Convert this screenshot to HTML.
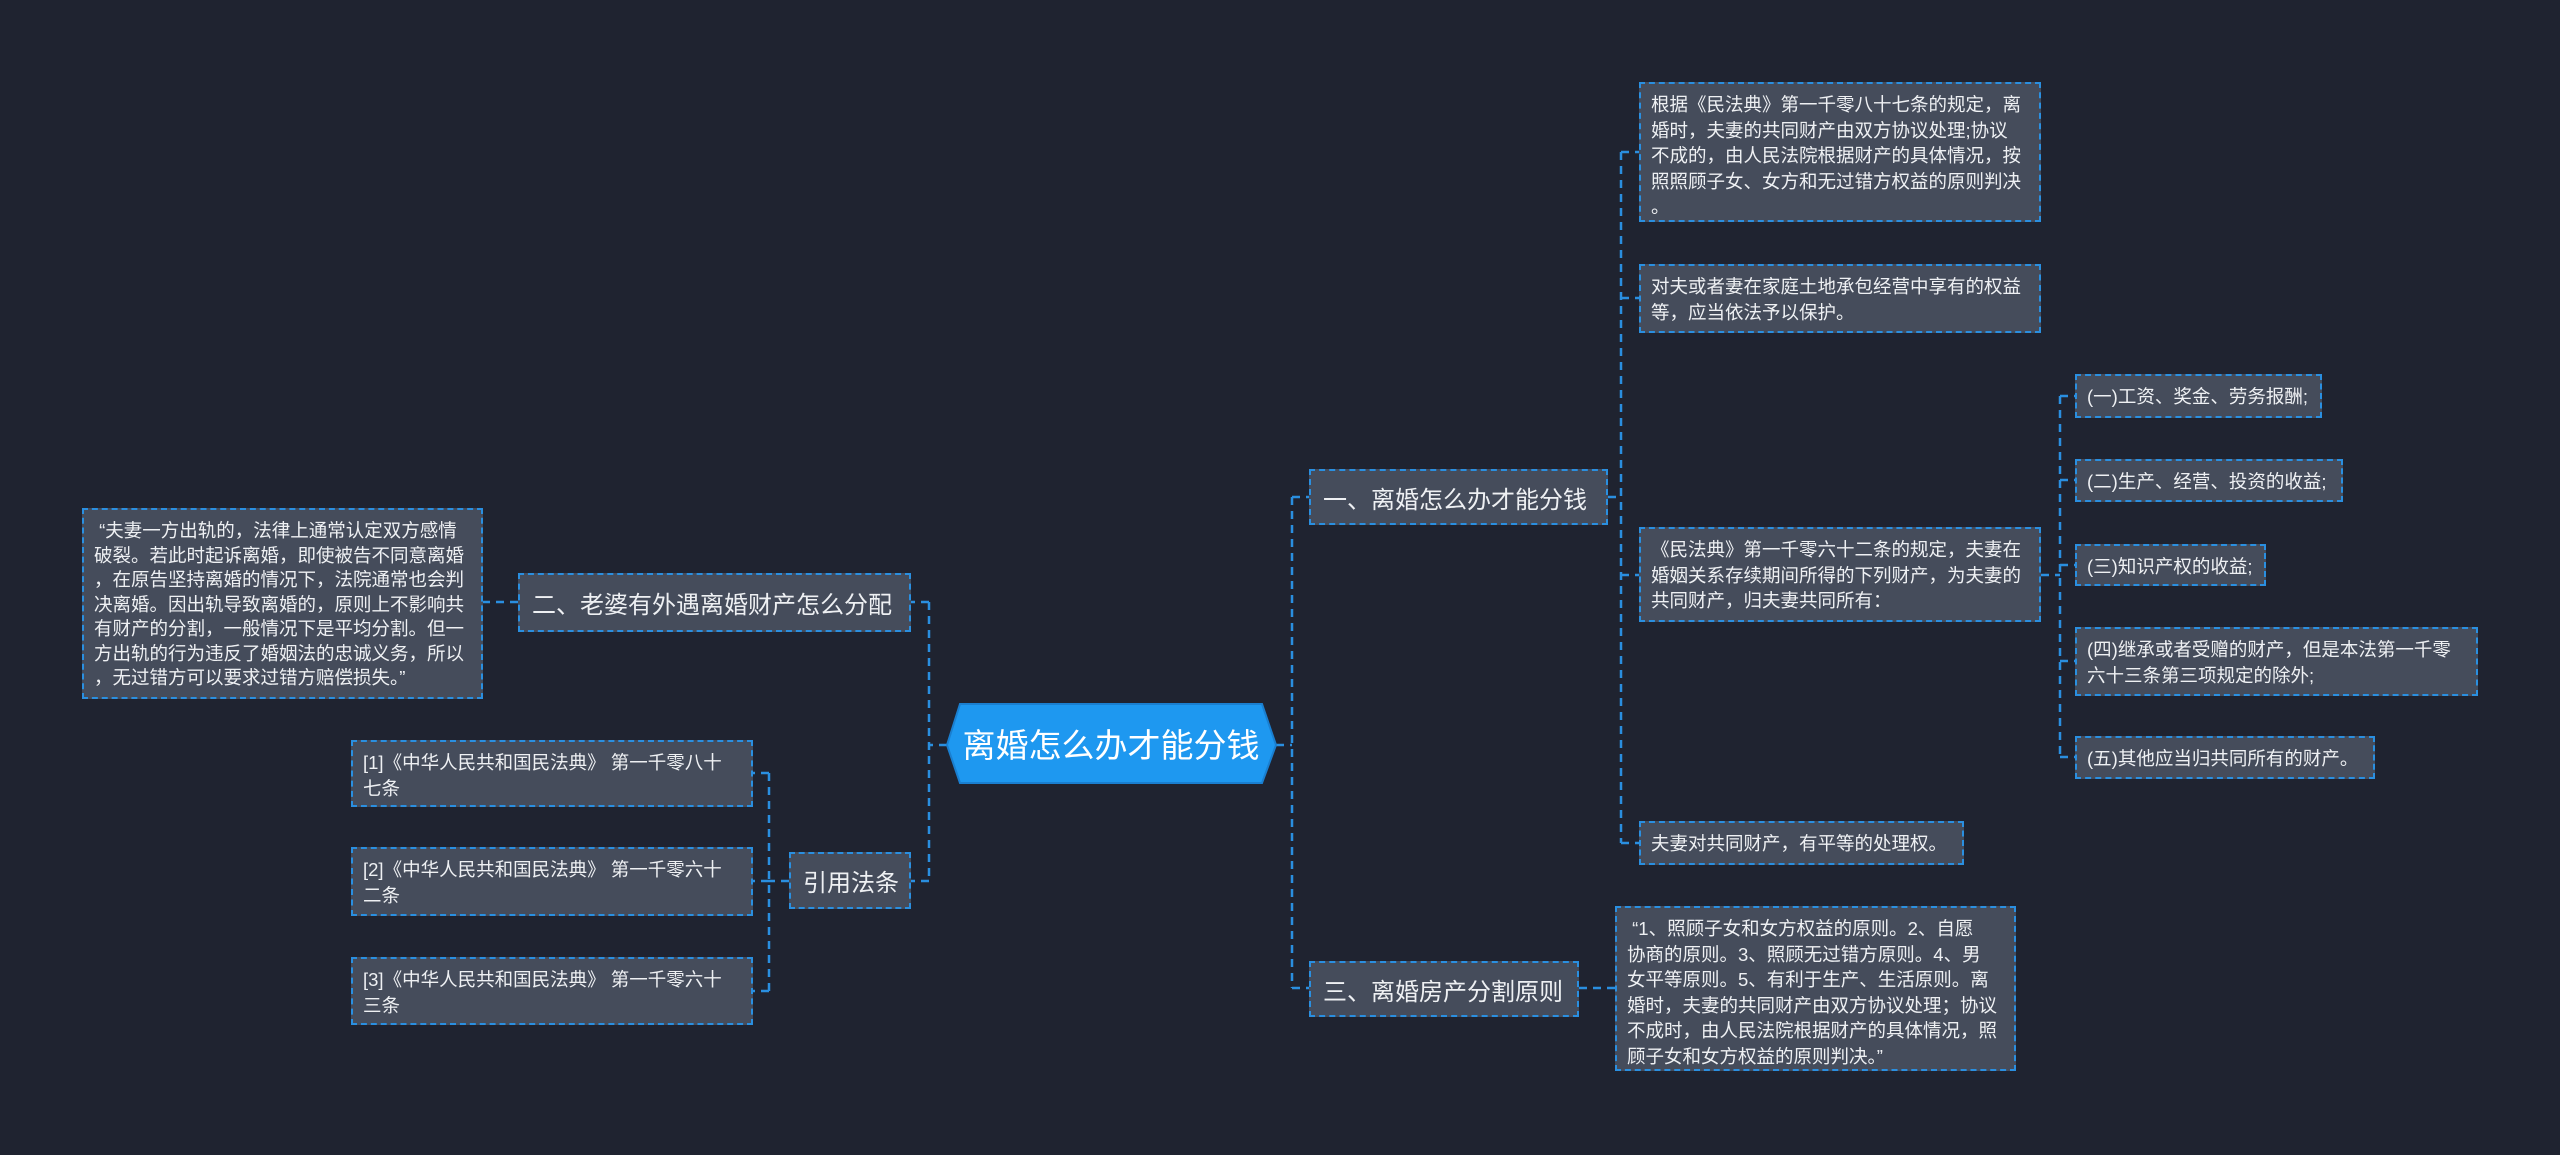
<!DOCTYPE html>
<html><head><meta charset="utf-8">
<style>
html,body{margin:0;padding:0;background:#1f2330;width:2560px;height:1155px;overflow:hidden;position:relative}
.b{position:absolute;box-sizing:border-box;background:#454c5b;border:2px dashed #2a8fe0;color:#eef0f3;font-family:"Liberation Sans","Noto Sans CJK SC",sans-serif;white-space:nowrap}
.s{font-size:18.5px;line-height:25.5px;padding:8px 10px}
.m{font-size:24px;display:flex;align-items:center;padding:0 12px}
svg{position:absolute;left:0;top:0}
</style></head><body>
<svg width="2560" height="1155">
<g stroke="#2a8fe0" stroke-width="2.5" fill="none" stroke-dasharray="8,6">
<path d="M1276 745 H1292"/>
<path d="M1292 497 V988"/>
<path d="M1292 497 H1309"/><path d="M1292 988 H1309"/>
<path d="M1608 497 H1621"/>
<path d="M1621 152 V843"/>
<path d="M1621 152 H1639"/><path d="M1621 298 H1639"/><path d="M1621 575 H1639"/><path d="M1621 843 H1639"/>
<path d="M2041 575 H2060"/>
<path d="M2060 396 V757"/>
<path d="M2060 396 H2075"/><path d="M2060 480 H2075"/><path d="M2060 565 H2075"/><path d="M2060 661 H2075"/><path d="M2060 757 H2075"/>
<path d="M1579 988 H1615"/>
<path d="M947 745 H929"/>
<path d="M929 602 V881"/>
<path d="M929 602 H911"/><path d="M929 881 H911"/>
<path d="M518 602 H483"/>
<path d="M789 881 H769"/>
<path d="M769 773 V991"/>
<path d="M769 773 H753"/><path d="M769 881 H753"/><path d="M769 991 H753"/>
</g>
<polygon points="947,745 960,704 1262,704 1276,745 1262,783 960,783" fill="#1e98f0" stroke="#1a7fd0" stroke-width="2"/>
<text x="1111" y="757" fill="#fff" font-size="33" text-anchor="middle" font-family="Liberation Sans,Noto Sans CJK SC,sans-serif">离婚怎么办才能分钱</text>
</svg>

<div class="b m" style="left:1309px;top:469px;width:299px;height:56px">一、离婚怎么办才能分钱</div>
<div class="b m" style="left:1309px;top:961px;width:270px;height:56px">三、离婚房产分割原则</div>
<div class="b m" style="left:518px;top:573px;width:393px;height:59px">二、老婆有外遇离婚财产怎么分配</div>
<div class="b m" style="left:789px;top:852px;width:122px;height:57px">引用法条</div>

<div class="b s" style="left:82px;top:508px;width:401px;height:191px;line-height:24.5px;padding-top:9px">&nbsp;“夫妻一方出轨的，法律上通常认定双方感情<br>破裂。若此时起诉离婚，即使被告不同意离婚<br>，在原告坚持离婚的情况下，法院通常也会判<br>决离婚。因出轨导致离婚的，原则上不影响共<br>有财产的分割，一般情况下是平均分割。但一<br>方出轨的行为违反了婚姻法的忠诚义务，所以<br>，无过错方可以要求过错方赔偿损失。”</div>

<div class="b s" style="left:351px;top:740px;width:402px;height:67px">[1]《中华人民共和国民法典》 第一千零八十<br>七条</div>
<div class="b s" style="left:351px;top:847px;width:402px;height:69px">[2]《中华人民共和国民法典》 第一千零六十<br>二条</div>
<div class="b s" style="left:351px;top:957px;width:402px;height:68px">[3]《中华人民共和国民法典》 第一千零六十<br>三条</div>

<div class="b s" style="left:1639px;top:82px;width:402px;height:140px">根据《民法典》第一千零八十七条的规定，离<br>婚时，夫妻的共同财产由双方协议处理;协议<br>不成的，由人民法院根据财产的具体情况，按<br>照照顾子女、女方和无过错方权益的原则判决<br>。</div>
<div class="b s" style="left:1639px;top:264px;width:402px;height:69px">对夫或者妻在家庭土地承包经营中享有的权益<br>等，应当依法予以保护。</div>
<div class="b s" style="left:1639px;top:527px;width:402px;height:95px">《民法典》第一千零六十二条的规定，夫妻在<br>婚姻关系存续期间所得的下列财产，为夫妻的<br>共同财产，归夫妻共同所有：</div>
<div class="b s" style="left:1639px;top:821px;width:325px;height:44px">夫妻对共同财产，有平等的处理权。</div>
<div class="b s" style="left:1615px;top:906px;width:401px;height:165px">&nbsp;“1、照顾子女和女方权益的原则。2、自愿<br>协商的原则。3、照顾无过错方原则。4、男<br>女平等原则。5、有利于生产、生活原则。离<br>婚时，夫妻的共同财产由双方协议处理；协议<br>不成时，由人民法院根据财产的具体情况，照<br>顾子女和女方权益的原则判决。”</div>

<div class="b s" style="left:2075px;top:374px;width:247px;height:44px">(一)工资、奖金、劳务报酬;</div>
<div class="b s" style="left:2075px;top:459px;width:268px;height:43px">(二)生产、经营、投资的收益;</div>
<div class="b s" style="left:2075px;top:544px;width:191px;height:42px">(三)知识产权的收益;</div>
<div class="b s" style="left:2075px;top:627px;width:403px;height:69px">(四)继承或者受赠的财产，但是本法第一千零<br>六十三条第三项规定的除外;</div>
<div class="b s" style="left:2075px;top:736px;width:300px;height:43px">(五)其他应当归共同所有的财产。</div>
</body></html>
